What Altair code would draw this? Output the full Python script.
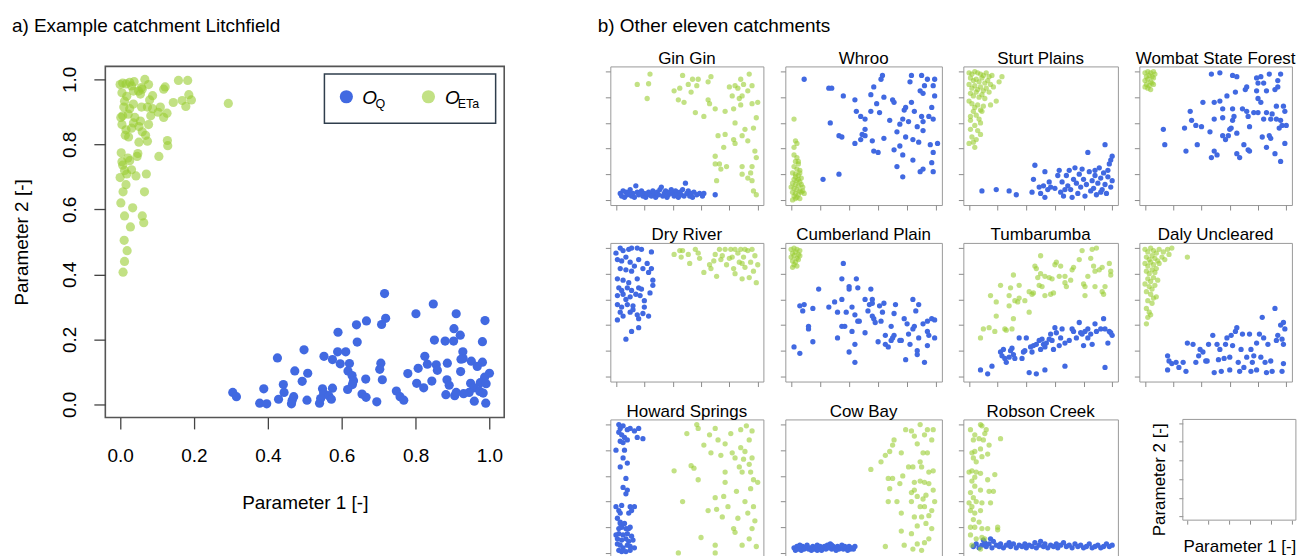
import altair as alt
import pandas as pd

FONT = "Liberation Sans"
BLUE = "#4169E1"
GREEN = "#9ACD32"

# ---------------- data ----------------
LITCH_Q = [(0.716,0.341),(0.848,0.309),(0.801,0.279),(0.910,0.279),(0.988,0.258),(0.667,0.257),(0.719,0.265),
           (0.708,0.246),(0.640,0.245),(0.590,0.222),(0.904,0.233),(0.921,0.213),(0.642,0.192),(0.851,0.198),
           (0.880,0.195),(0.903,0.195),(0.981,0.193),(0.498,0.168),(0.589,0.162),(0.611,0.162),(0.928,0.162),
           (0.426,0.143),(0.552,0.148),(0.575,0.138),(0.825,0.148),(0.929,0.141),(0.951,0.133),(0.981,0.130),
           (0.596,0.125),(0.621,0.126),(0.706,0.127),(0.832,0.124),(0.856,0.122),(0.886,0.127),(0.967,0.117),
           (0.923,0.139),(0.473,0.103),(0.508,0.096),(0.617,0.103),(0.628,0.089),(0.703,0.108),(0.779,0.095),
           (0.807,0.111),(0.859,0.105),(0.922,0.101),(1.000,0.096),(0.987,0.084),(0.493,0.071),(0.632,0.073),
           (0.665,0.078),(0.710,0.076),(0.844,0.072),(0.885,0.076),(0.975,0.067),(0.803,0.065),(0.991,0.064),
           (0.442,0.061),(0.629,0.061),(0.949,0.065),(0.891,0.059),(0.389,0.048),(0.548,0.048),(0.575,0.050),
           (0.616,0.046),(0.822,0.051),(0.958,0.051),(0.748,0.041),(0.974,0.040),(0.305,0.037),(0.444,0.037),
           (0.551,0.035),(0.945,0.037),(0.315,0.024),(0.470,0.024),(0.565,0.027),(0.655,0.032),(0.758,0.024),
           (0.882,0.030),(0.906,0.027),(0.930,0.033),(0.983,0.035),(0.429,0.016),(0.466,0.013),(0.506,0.013),
           (0.572,0.016),(0.666,0.022),(0.768,0.013),(0.695,0.008),(0.378,0.004),(0.397,0.002),(0.464,0.002),
           (0.540,0.004),(0.959,0.010),(0.990,0.004),(0.543,0.018),(0.910,0.037)]
LITCH_ETA = [(0.007,0.989),(0.016,0.986),(0.031,0.980),(0.038,0.993),(0.058,0.975),(0.067,1.000),(0.077,0.984),
             (0.158,0.997),(0.183,0.997),(0.122,0.977),(0.118,0.970),(0.005,0.959),(0.018,0.948),(0.036,0.964),
             (0.055,0.955),(0.080,0.937),(0.186,0.953),(0.193,0.937),(0.168,0.935),(0.144,0.929),(0.178,0.917),
             (0.293,0.926),(0.010,0.915),(0.026,0.910),(0.007,0.888),(0.022,0.893),(0.040,0.883),(0.058,0.915),
             (0.074,0.915),(0.088,0.910),(0.103,0.899),(0.118,0.883),(0.127,0.896),(0.109,0.915),(0.005,0.861),
             (0.016,0.845),(0.036,0.866),(0.051,0.855),(0.060,0.839),(0.077,0.861),(0.069,0.828),(0.051,0.807),
             (0.023,0.823),(0.074,0.810),(0.105,0.763),(0.128,0.812),(0.129,0.796),(0.048,0.772),(0.046,0.763),
             (0.003,0.774),(0.007,0.736),(0.021,0.758),(0.012,0.720),(0.031,0.722),(0.018,0.709),(0.043,0.703),
             (0.071,0.709),(0.000,0.698),(0.016,0.676),(0.008,0.654),(0.066,0.654),(0.002,0.620),(0.012,0.580),
             (0.034,0.605),(0.060,0.580),(0.064,0.559),(0.028,0.546),(0.011,0.505),(0.019,0.473),(0.012,0.440),
             (0.008,0.407),(0.000,0.984),(0.026,0.991),(0.050,0.964),(0.060,0.970),(0.088,0.950),(0.012,0.933),
             (0.036,0.924),(0.002,0.883),(0.031,0.850),(0.014,0.828),(0.055,0.872),(0.083,0.888),(0.026,0.750),
             (0.005,0.747)]

GINGIN_Q = [(0.03,0.05),(0.04,0.03),(0.05,0.07),(0.06,0.02),(0.07,0.06),(0.08,0.04),(0.10,0.08),(0.11,0.03),
            (0.12,0.05),(0.13,0.02),(0.14,0.11),(0.15,0.06),(0.16,0.04),(0.18,0.07),(0.19,0.03),(0.20,0.05),
            (0.21,0.02),(0.23,0.06),(0.24,0.04),(0.25,0.03),(0.26,0.07),(0.27,0.05),(0.28,0.02),(0.29,0.06),
            (0.30,0.04),(0.31,0.08),(0.32,0.10),(0.33,0.03),(0.34,0.05),(0.35,0.07),(0.36,0.02),(0.37,0.04),
            (0.38,0.06),(0.40,0.05),(0.41,0.03),(0.42,0.07),(0.43,0.04),(0.44,0.02),(0.45,0.06),(0.46,0.04),
            (0.47,0.08),(0.48,0.03),(0.49,0.13),(0.50,0.05),(0.51,0.07),(0.52,0.03),(0.53,0.05),(0.54,0.02),
            (0.55,0.06),(0.57,0.04),(0.59,0.05),(0.61,0.03),(0.62,0.05),(0.70,0.04),(0.09,0.06),(0.17,0.05),
            (0.22,0.04),(0.39,0.08)]
GINGIN_ETA = [(0.24,0.98),(0.15,0.90),(0.23,0.905),(0.22,0.79),(0.47,0.97),(0.54,0.94),(0.51,0.90),(0.58,0.94),
              (0.67,0.96),(0.65,0.92),(0.41,0.85),(0.45,0.87),(0.53,0.84),(0.57,0.89),(0.44,0.78),(0.48,0.76),
              (0.65,0.78),(0.66,0.75),(0.56,0.68),(0.62,0.65),(0.70,0.71),(0.77,0.69),(0.83,0.71),(0.80,0.88),
              (0.84,0.89),(0.88,0.94),(0.94,0.98),(0.96,0.89),(0.89,0.81),(0.82,0.81),(0.93,0.85),(0.88,0.74),
              (0.96,0.75),(1.00,0.76),(0.84,0.60),(0.91,0.55),(0.97,0.56),(0.72,0.50),(0.77,0.51),(0.83,0.47),
              (0.89,0.50),(0.93,0.46),(0.84,0.44),(0.76,0.41),(0.70,0.34),(0.70,0.28),(0.73,0.28),(0.78,0.26),
              (0.74,0.24),(0.89,0.26),(0.96,0.26),(0.99,0.33),(0.98,0.38),(0.95,0.21),(0.89,0.20),(0.93,0.17),
              (0.96,0.15),(0.97,0.07),(0.99,0.04),(0.71,0.15),(0.99,0.64),(0.90,0.90),(0.86,0.87),(0.87,0.79)]

WHROO_Q = [(0.09,0.94),(0.26,0.87),(0.28,0.87),(0.36,0.81),(0.27,0.60),(0.33,0.50),(0.35,0.49),(0.44,0.78),
           (0.45,0.69),(0.48,0.65),(0.51,0.63),(0.55,0.69),(0.57,0.88),(0.55,0.82),(0.63,0.97),(0.62,0.94),
           (0.64,0.80),(0.59,0.75),(0.61,0.68),(0.51,0.55),(0.49,0.51),(0.51,0.50),(0.44,0.44),(0.48,0.47),
           (0.56,0.46),(0.57,0.38),(0.60,0.37),(0.64,0.48),(0.68,0.62),(0.70,0.78),(0.71,0.76),(0.78,0.70),
           (0.79,0.72),(0.75,0.59),(0.81,0.61),(0.85,0.69),(0.83,0.76),(0.82,0.92),(0.83,0.97),(0.90,0.97),
           (0.94,0.94),(0.99,0.94),(0.89,0.85),(0.91,0.83),(0.98,0.89),(0.99,0.81),(0.90,0.65),(0.91,0.61),
           (0.97,0.72),(0.98,0.63),(1.01,0.44),(0.96,0.43),(0.87,0.57),(0.91,0.54),(0.84,0.47),(0.88,0.45),
           (0.79,0.49),(0.75,0.42),(0.71,0.39),(0.73,0.26),(0.77,0.35),(0.84,0.31),(0.77,0.18),(0.89,0.22),
           (0.91,0.24),(0.97,0.29),(0.98,0.22),(0.22,0.16),(0.33,0.20),(0.98,0.37),(0.92,0.89),(0.95,0.65),
           (0.77,0.63),(0.73,0.53)]
WHROO_ETA = [(0.02,0.63),(0.03,0.46),(0.04,0.44),(0.02,0.41),(0.03,0.30),(0.05,0.28),(0.02,0.26),(0.04,0.24),
             (0.06,0.23),(0.01,0.21),(0.03,0.20),(0.05,0.19),(0.07,0.17),(0.02,0.16),(0.04,0.15),(0.06,0.14),
             (0.01,0.13),(0.03,0.12),(0.05,0.11),(0.08,0.10),(0.02,0.09),(0.04,0.08),(0.06,0.07),(0.01,0.06),
             (0.03,0.05),(0.05,0.04),(0.07,0.06),(0.02,0.03),(0.04,0.02),(0.06,0.01),(0.01,0.00),(0.03,0.01),
             (0.08,0.07),(0.09,0.05),(0.05,0.30),(0.02,0.35),(0.04,0.33),(0.06,0.21),(0.03,0.18),(0.07,0.12),
             (0.00,0.10),(0.05,0.16)]

STURT_Q = [(0.09,0.07),(0.19,0.08),(0.28,0.07),(0.33,0.04),(0.44,0.06),(0.46,0.27),(0.53,0.22),(0.45,0.16),
           (0.49,0.10),(0.52,0.11),(0.55,0.08),(0.50,0.05),(0.53,0.02),(0.56,0.14),(0.57,0.10),(0.63,0.23),
           (0.65,0.14),(0.64,0.06),(0.66,0.03),(0.68,0.19),(0.69,0.11),(0.70,0.23),(0.71,0.08),(0.72,0.02),
           (0.73,0.16),(0.74,0.25),(0.75,0.13),(0.76,0.05),(0.77,0.20),(0.78,0.10),(0.79,0.24),(0.80,0.16),
           (0.81,0.03),(0.82,0.12),(0.83,0.37),(0.84,0.22),(0.85,0.07),(0.86,0.15),(0.87,0.09),(0.88,0.19),
           (0.89,0.04),(0.90,0.13),(0.91,0.25),(0.92,0.17),(0.93,0.08),(0.94,0.21),(0.95,0.43),(0.95,0.12),
           (0.96,0.05),(0.97,0.18),(0.98,0.28),(0.99,0.10),(1.00,0.34),(1.00,0.15),(0.99,0.31),(0.92,0.06),
           (0.88,0.23),(0.62,0.19),(0.60,0.09),(0.97,0.23),(0.67,0.08)]
STURT_ETA = [(0.00,0.99),(0.02,0.98),(0.04,1.00),(0.06,0.99),(0.08,0.98),(0.10,0.97),(0.12,0.99),(0.14,0.96),
             (0.16,0.97),(0.23,0.96),(0.21,0.92),(0.01,0.95),(0.03,0.93),(0.05,0.94),(0.07,0.92),(0.09,0.95),
             (0.11,0.91),(0.13,0.93),(0.15,0.90),(0.17,0.88),(0.00,0.90),(0.02,0.87),(0.04,0.89),(0.06,0.86),
             (0.08,0.88),(0.10,0.85),(0.12,0.87),(0.14,0.84),(0.01,0.83),(0.03,0.81),(0.05,0.84),(0.07,0.80),
             (0.09,0.82),(0.11,0.79),(0.19,0.77),(0.15,0.74),(0.00,0.77),(0.02,0.75),(0.04,0.72),(0.06,0.74),
             (0.08,0.70),(0.10,0.73),(0.03,0.69),(0.09,0.69),(0.01,0.65),(0.05,0.66),(0.07,0.63),(0.01,0.62),
             (0.08,0.60),(0.04,0.58),(0.01,0.55),(0.06,0.54),(0.08,0.51),(0.02,0.49),(0.05,0.47),(0.00,0.44),
             (0.04,0.41),(0.03,0.45)]

WOMBAT_Q = [(0.13,0.55),(0.14,0.43),(0.28,0.56),(0.29,0.38),(0.32,0.69),(0.33,0.62),(0.36,0.58),(0.37,0.43),
            (0.40,0.57),(0.41,0.76),(0.46,0.53),(0.47,0.98),(0.53,0.99),(0.49,0.76),(0.53,0.77),(0.49,0.63),
            (0.55,0.71),(0.55,0.64),(0.55,0.50),(0.59,0.50),(0.57,0.47),(0.49,0.38),(0.51,0.35),(0.47,0.33),
            (0.58,0.81),(0.64,0.84),(0.62,0.97),(0.65,0.96),(0.62,0.71),(0.62,0.62),(0.61,0.56),(0.65,0.52),
            (0.63,0.65),(0.65,0.36),(0.67,0.33),(0.70,0.43),(0.69,0.71),(0.72,0.69),(0.71,0.86),(0.72,0.88),
            (0.74,0.57),(0.73,0.65),(0.73,0.39),(0.79,0.95),(0.82,0.96),(0.80,0.91),(0.79,0.85),(0.80,0.79),
            (0.84,0.91),(0.86,0.85),(0.88,0.98),(0.96,0.98),(0.94,0.93),(0.94,0.88),(0.92,0.86),(0.80,0.68),
            (0.82,0.76),(0.84,0.63),(0.86,0.68),(0.90,0.67),(0.93,0.73),(0.98,0.73),(0.99,0.69),(0.96,0.62),
            (0.97,0.58),(1.00,0.58),(0.95,0.56),(0.93,0.63),(0.89,0.63),(0.83,0.49),(0.86,0.41),(0.88,0.50),
            (0.89,0.48),(0.99,0.44),(0.92,0.36),(0.96,0.30),(0.77,0.68),(0.60,0.55),(0.74,0.38)]
WOMBAT_ETA = [(0.00,0.99),(0.02,1.00),(0.04,0.99),(0.06,1.00),(0.01,0.96),(0.03,0.97),(0.05,0.96),(0.07,0.98),
              (0.00,0.93),(0.02,0.94),(0.04,0.92),(0.06,0.95),(0.01,0.90),(0.03,0.89),(0.05,0.91),(0.02,0.87),
              (0.04,0.86),(0.00,0.88),(0.06,0.90)]

DRY_Q = [(0.00,0.96),(0.03,1.00),(0.05,0.98),(0.09,0.99),(0.11,1.00),(0.15,1.00),(0.18,0.99),(0.25,0.97),
         (0.01,0.91),(0.04,0.90),(0.07,0.93),(0.10,0.89),(0.16,0.91),(0.22,0.88),(0.25,0.84),(0.03,0.84),
         (0.07,0.83),(0.11,0.82),(0.13,0.86),(0.19,0.84),(0.23,0.81),(0.01,0.76),(0.05,0.75),(0.09,0.73),
         (0.15,0.76),(0.26,0.75),(0.26,0.71),(0.02,0.69),(0.04,0.67),(0.08,0.69),(0.11,0.67),(0.16,0.69),
         (0.18,0.68),(0.01,0.63),(0.05,0.64),(0.10,0.62),(0.17,0.63),(0.24,0.65),(0.01,0.56),(0.04,0.54),
         (0.08,0.56),(0.12,0.55),(0.20,0.59),(0.20,0.54),(0.03,0.50),(0.05,0.47),(0.10,0.50),(0.15,0.48),
         (0.19,0.49),(0.23,0.47),(0.01,0.44),(0.16,0.45),(0.16,0.38),(0.11,0.35),(0.07,0.29),(0.12,0.52),
         (0.07,0.60),(0.14,0.64)]
DRY_ETA = [(0.41,0.95),(0.45,0.98),(0.47,0.98),(0.46,0.93),(0.51,0.95),(0.52,0.88),(0.56,0.99),(0.58,0.96),
           (0.59,0.92),(0.62,0.81),(0.66,0.87),(0.67,0.84),(0.69,0.90),(0.71,0.78),(0.70,0.95),(0.73,0.99),
           (0.75,0.94),(0.77,0.99),(0.78,0.87),(0.81,0.99),(0.82,0.93),(0.83,0.84),(0.84,0.80),(0.86,0.96),
           (0.87,0.89),(0.88,0.99),(0.89,0.76),(0.90,0.93),(0.91,0.85),(0.93,0.98),(0.94,0.77),(0.95,0.89),
           (0.96,0.99),(0.97,0.82),(0.98,0.94),(0.99,0.73),(1.00,0.87),(0.84,0.99),(0.91,0.99),(0.80,0.92),
           (0.89,0.88),(0.74,0.91)]

CUMB_Q = [(0.02,0.23),(0.06,0.18),(0.06,0.55),(0.09,0.56),(0.08,0.51),(0.12,0.39),(0.12,0.37),(0.15,0.27),
          (0.15,0.53),(0.19,0.68),(0.26,0.54),(0.30,0.58),(0.32,0.50),(0.32,0.30),(0.35,0.76),(0.36,0.88),
          (0.35,0.60),(0.35,0.39),(0.37,0.39),(0.38,0.50),(0.40,0.70),(0.40,0.68),(0.40,0.19),(0.42,0.54),
          (0.42,0.35),(0.44,0.48),(0.44,0.25),(0.44,0.11),(0.45,0.76),(0.46,0.69),(0.46,0.43),(0.47,0.43),
          (0.51,0.34),(0.51,0.60),(0.53,0.51),(0.54,0.56),(0.55,0.68),(0.56,0.60),(0.56,0.47),(0.57,0.45),
          (0.58,0.42),(0.60,0.27),(0.61,0.55),(0.62,0.43),(0.63,0.50),(0.64,0.57),(0.65,0.32),(0.65,0.25),
          (0.67,0.23),(0.69,0.28),(0.69,0.39),(0.70,0.30),(0.71,0.49),(0.72,0.56),(0.71,0.32),(0.75,0.28),
          (0.76,0.28),(0.78,0.45),(0.79,0.13),(0.80,0.41),(0.81,0.33),(0.82,0.25),(0.84,0.60),(0.84,0.37),
          (0.85,0.39),(0.86,0.51),(0.87,0.20),(0.87,0.17),(0.88,0.56),(0.88,0.30),(0.91,0.41),(0.92,0.11),
          (0.94,0.35),(0.94,0.24),(0.94,0.43),(0.95,0.32),(0.97,0.45),(0.99,0.44),(0.99,0.30),(0.56,0.57)]
CUMB_ETA = [(0.00,0.99),(0.02,1.00),(0.04,0.99),(0.06,0.98),(0.01,0.96),(0.03,0.97),(0.05,0.95),(0.00,0.93),
            (0.02,0.94),(0.04,0.92),(0.06,0.94),(0.01,0.90),(0.03,0.89),(0.05,0.91),(0.02,0.87),(0.04,0.86),
            (0.01,0.85)]

TUMBA_Q = [(0.08,0.05),(0.13,0.02),(0.16,0.08),(0.22,0.19),(0.23,0.16),(0.24,0.21),(0.25,0.14),(0.26,0.11),
           (0.28,0.15),(0.29,0.20),(0.30,0.22),(0.31,0.17),(0.32,0.14),(0.35,0.30),(0.37,0.14),(0.38,0.19),
           (0.39,0.20),(0.40,0.30),(0.42,0.03),(0.43,0.23),(0.44,0.19),(0.45,0.24),(0.47,0.02),(0.47,0.25),
           (0.49,0.28),(0.50,0.21),(0.51,0.29),(0.53,0.05),(0.52,0.25),(0.53,0.23),(0.54,0.26),(0.56,0.29),
           (0.57,0.33),(0.58,0.28),(0.59,0.21),(0.60,0.38),(0.61,0.34),(0.63,0.24),(0.64,0.30),(0.65,0.37),
           (0.67,0.08),(0.67,0.26),(0.70,0.28),(0.72,0.37),(0.73,0.35),(0.75,0.30),(0.77,0.42),(0.78,0.34),
           (0.80,0.24),(0.81,0.35),(0.83,0.30),(0.85,0.33),(0.86,0.25),(0.88,0.41),(0.89,0.35),(0.92,0.37),
           (0.94,0.45),(0.95,0.07),(0.97,0.26),(0.98,0.35),(0.99,0.34),(1.00,0.32),(0.95,0.37),(0.79,0.33),
           (0.83,0.37)]
TUMBA_ETA = [(0.08,0.30),(0.10,0.37),(0.14,0.38),(0.18,0.35),(0.15,0.63),(0.19,0.58),(0.19,0.47),(0.22,0.71),
             (0.25,0.37),(0.26,0.36),(0.28,0.63),(0.28,0.55),(0.29,0.69),(0.30,0.37),(0.31,0.45),(0.31,0.79),
             (0.32,0.59),(0.34,0.58),(0.35,0.71),(0.35,0.61),(0.39,0.59),(0.42,0.66),(0.42,0.50),(0.44,0.64),
             (0.45,0.65),(0.46,0.86),(0.47,0.84),(0.48,0.77),(0.49,0.71),(0.50,0.80),(0.50,0.94),(0.51,0.70),
             (0.53,0.78),(0.53,0.63),(0.56,0.77),(0.57,0.64),(0.58,0.76),(0.59,0.65),(0.60,0.87),(0.61,0.89),
             (0.63,0.78),(0.64,0.86),(0.67,0.78),(0.68,0.70),(0.71,0.75),(0.72,0.83),(0.73,0.85),(0.77,0.91),
             (0.79,0.98),(0.80,0.72),(0.81,0.63),(0.83,0.78),(0.85,0.92),(0.86,0.99),(0.87,0.86),(0.88,0.70),
             (0.89,1.00),(0.91,0.83),(0.93,0.66),(0.94,0.64),(0.95,0.70),(0.98,0.88),(0.99,0.79),(0.99,0.82),
             (0.88,0.82),(0.93,0.85),(0.81,0.70),(0.67,0.73)]

DALY_Q = [(0.16,0.16),(0.17,0.12),(0.19,0.10),(0.16,0.05),(0.22,0.11),(0.24,0.07),(0.27,0.11),(0.29,0.04),
          (0.30,0.26),(0.34,0.25),(0.36,0.11),(0.38,0.16),(0.39,0.21),(0.41,0.19),(0.43,0.12),(0.44,0.12),
          (0.45,0.25),(0.48,0.32),(0.49,0.03),(0.51,0.25),(0.52,0.13),(0.53,0.21),(0.54,0.04),(0.56,0.14),
          (0.57,0.25),(0.58,0.30),(0.60,0.15),(0.60,0.05),(0.61,0.32),(0.62,0.24),(0.64,0.35),(0.65,0.38),
          (0.66,0.11),(0.67,0.04),(0.68,0.21),(0.69,0.33),(0.70,0.07),(0.72,0.15),(0.74,0.33),(0.75,0.21),
          (0.75,0.04),(0.76,0.11),(0.77,0.16),(0.79,0.26),(0.79,0.05),(0.81,0.33),(0.82,0.15),(0.83,0.46),
          (0.84,0.30),(0.85,0.11),(0.86,0.03),(0.87,0.25),(0.89,0.12),(0.90,0.04),(0.92,0.53),(0.93,0.28),
          (0.94,0.32),(0.96,0.40),(0.97,0.04),(0.98,0.42),(0.98,0.10),(0.99,0.37),(0.97,0.29),(0.98,0.25)]
DALY_ETA = [(0.00,0.99),(0.02,0.97),(0.04,1.00),(0.06,0.98),(0.08,0.96),(0.10,0.99),(0.13,0.97),(0.16,0.99),
            (0.19,1.00),(0.17,0.95),(0.30,0.93),(0.01,0.93),(0.03,0.91),(0.05,0.94),(0.07,0.92),(0.09,0.90),
            (0.12,0.93),(0.14,0.91),(0.00,0.88),(0.02,0.86),(0.04,0.89),(0.06,0.87),(0.08,0.84),(0.10,0.88),
            (0.01,0.82),(0.03,0.80),(0.05,0.83),(0.07,0.81),(0.02,0.76),(0.04,0.74),(0.06,0.77),(0.00,0.72),
            (0.03,0.70),(0.05,0.68),(0.07,0.71),(0.01,0.66),(0.04,0.64),(0.06,0.61),(0.02,0.59),(0.05,0.57),
            (0.01,0.53),(0.03,0.50),(0.02,0.46),(0.01,0.41),(0.04,0.48),(0.08,0.62),(0.09,0.75)]

HOWARD_Q = [(0.02,1.00),(0.03,0.97),(0.05,0.99),(0.08,0.96),(0.10,0.97),(0.13,0.95),(0.16,0.97),(0.19,0.89),
            (0.15,0.90),(0.02,0.94),(0.04,0.92),(0.06,0.90),(0.03,0.87),(0.05,0.86),(0.08,0.88),(0.00,0.80),
            (0.06,0.80),(0.05,0.74),(0.08,0.70),(0.03,0.67),(0.07,0.58),(0.05,0.51),(0.08,0.49),(0.07,0.46),
            (0.00,0.36),(0.02,0.33),(0.04,0.37),(0.03,0.31),(0.10,0.36),(0.11,0.33),(0.13,0.36),(0.09,0.31),
            (0.01,0.27),(0.03,0.24),(0.02,0.19),(0.04,0.20),(0.07,0.19),(0.09,0.19),(0.10,0.20),(0.02,0.15),
            (0.05,0.14),(0.08,0.15),(0.11,0.13),(0.01,0.11),(0.04,0.10),(0.07,0.11),(0.09,0.09),(0.12,0.10),
            (0.01,0.07),(0.03,0.06),(0.05,0.04),(0.08,0.06),(0.10,0.05),(0.13,0.04),(0.02,0.02),(0.04,0.01),
            (0.07,0.01),(0.10,0.02),(0.00,0.14),(0.03,0.23),(0.06,0.23)]
HOWARD_ETA = [(0.41,0.64),(0.44,0.00),(0.47,0.40),(0.50,0.93),(0.53,0.68),(0.55,0.66),(0.57,1.00),(0.58,0.97),
              (0.58,0.57),(0.60,0.12),(0.62,0.84),(0.65,0.33),(0.66,0.92),(0.67,0.78),(0.70,0.97),(0.70,0.43),
              (0.71,0.34),(0.70,0.06),(0.70,0.00),(0.72,0.88),(0.74,0.76),(0.75,0.28),(0.76,0.44),(0.77,0.63),
              (0.77,0.85),(0.77,0.55),(0.79,0.36),(0.81,0.93),(0.82,0.78),(0.83,0.19),(0.84,0.74),(0.85,0.48),
              (0.86,0.27),(0.87,0.67),(0.88,0.96),(0.89,0.06),(0.89,0.63),(0.90,0.73),(0.91,0.79),(0.91,0.40),
              (0.92,0.99),(0.93,0.31),(0.94,0.69),(0.94,0.88),(0.95,0.50),(0.95,0.63),(0.96,0.95),(0.96,0.19),
              (0.97,0.36),(0.97,0.57),(0.98,0.25),(0.99,0.05),(1.00,0.55),(0.94,0.11),(0.88,0.82),(0.84,0.16),
              (0.96,0.74)]

COWBAY_Q = [(0.02,0.04),(0.03,0.02),(0.04,0.05),(0.05,0.03),(0.06,0.04),(0.07,0.02),(0.08,0.05),(0.09,0.03),
            (0.10,0.04),(0.11,0.06),(0.12,0.03),(0.13,0.04),(0.14,0.02),(0.15,0.05),(0.16,0.03),(0.17,0.04),
            (0.18,0.06),(0.19,0.03),(0.20,0.05),(0.21,0.02),(0.22,0.04),(0.23,0.05),(0.24,0.03),(0.25,0.06),
            (0.26,0.04),(0.27,0.07),(0.28,0.03),(0.29,0.05),(0.30,0.04),(0.31,0.02),(0.32,0.05),(0.33,0.03),
            (0.34,0.04),(0.35,0.06),(0.36,0.03),(0.37,0.05),(0.38,0.04),(0.39,0.02),(0.40,0.05),(0.41,0.03),
            (0.42,0.04),(0.44,0.05),(0.43,0.03),(0.06,0.06),(0.18,0.02),(0.28,0.06)]
COWBAY_ETA = [(0.55,0.65),(0.62,0.71),(0.65,0.76),(0.68,0.79),(0.70,0.84),(0.71,0.88),(0.76,0.78),(0.79,0.96),
              (0.83,0.95),(0.85,0.91),(0.87,0.85),(0.89,1.00),(0.92,0.92),(0.94,0.96),(0.98,0.96),(0.97,0.88),
              (0.91,0.78),(0.94,0.78),(0.89,0.71),(0.90,0.67),(0.95,0.63),(0.98,0.64),(0.81,0.67),(0.84,0.67),
              (0.77,0.60),(0.67,0.58),(0.70,0.58),(0.68,0.50),(0.75,0.54),(0.85,0.55),(0.89,0.56),(0.92,0.55),
              (0.95,0.54),(0.98,0.49),(0.85,0.49),(0.83,0.47),(0.87,0.44),(0.91,0.42),(0.93,0.45),(0.67,0.40),
              (0.73,0.40),(0.83,0.40),(0.89,0.36),(0.92,0.36),(0.97,0.33),(0.99,0.40),(0.76,0.31),(0.85,0.28),
              (0.90,0.28),(0.95,0.29),(0.87,0.21),(0.93,0.23),(0.97,0.19),(0.76,0.17),(0.83,0.15),(0.95,0.11),
              (0.92,0.08),(0.65,0.05),(0.78,0.06),(0.84,0.03),(0.87,0.07),(0.90,0.02)]

ROBSON_Q = [(0.03,0.05),(0.05,0.07),(0.07,0.04),(0.09,0.06),(0.11,0.08),(0.12,0.05),(0.14,0.07),(0.16,0.04),
            (0.17,0.09),(0.19,0.06),(0.21,0.05),(0.22,0.07),(0.24,0.04),(0.26,0.06),(0.28,0.08),(0.29,0.05),
            (0.31,0.07),(0.33,0.04),(0.35,0.06),(0.37,0.05),(0.39,0.07),(0.40,0.04),(0.42,0.06),(0.44,0.05),
            (0.46,0.08),(0.47,0.04),(0.49,0.06),(0.50,0.09),(0.52,0.05),(0.53,0.07),(0.55,0.04),(0.57,0.06),
            (0.59,0.05),(0.61,0.07),(0.62,0.04),(0.64,0.06),(0.66,0.08),(0.68,0.05),(0.70,0.06),(0.72,0.04),
            (0.74,0.07),(0.76,0.05),(0.78,0.06),(0.80,0.04),(0.82,0.05),(0.84,0.07),(0.86,0.04),(0.88,0.05),
            (0.90,0.06),(0.92,0.04),(0.94,0.05),(0.96,0.07),(0.98,0.05),(1.00,0.06),(0.10,0.10),(0.15,0.11)]
ROBSON_ETA = [(0.01,0.96),(0.08,1.00),(0.09,0.99),(0.12,0.96),(0.11,0.93),(0.04,0.92),(0.07,0.89),(0.03,0.88),
              (0.10,0.88),(0.22,0.89),(0.14,0.84),(0.02,0.78),(0.04,0.79),(0.08,0.81),(0.13,0.77),(0.03,0.74),
              (0.05,0.71),(0.00,0.63),(0.02,0.64),(0.05,0.63),(0.08,0.62),(0.18,0.61),(0.13,0.57),(0.02,0.56),
              (0.04,0.52),(0.08,0.49),(0.14,0.48),(0.17,0.48),(0.01,0.47),(0.03,0.43),(0.00,0.39),(0.02,0.36),
              (0.05,0.40),(0.09,0.39),(0.15,0.39),(0.01,0.33),(0.04,0.31),(0.08,0.33),(0.03,0.26),(0.07,0.24),
              (0.01,0.20),(0.04,0.20),(0.09,0.19),(0.13,0.19),(0.20,0.20),(0.20,0.18),(0.01,0.14),(0.05,0.11),
              (0.09,0.12),(0.02,0.06),(0.08,0.03),(0.11,0.11),(0.04,0.59),(0.09,0.75)]

PANEL_TITLES = ["Gin Gin", "Whroo", "Sturt Plains", "Wombat State Forest",
                "Dry River", "Cumberland Plain", "Tumbarumba", "Daly Uncleared",
                "Howard Springs", "Cow Bay", "Robson Creek"]
PANEL_DATA = [(GINGIN_Q, GINGIN_ETA), (WHROO_Q, WHROO_ETA), (STURT_Q, STURT_ETA), (WOMBAT_Q, WOMBAT_ETA),
              (DRY_Q, DRY_ETA), (CUMB_Q, CUMB_ETA), (TUMBA_Q, TUMBA_ETA), (DALY_Q, DALY_ETA),
              (HOWARD_Q, HOWARD_ETA), (COWBAY_Q, COWBAY_ETA), (ROBSON_Q, ROBSON_ETA)]
TICKS = [0.0, 0.2, 0.4, 0.6, 0.8, 1.0]
SERIES = ["Q", "ETa"]

# ---------------- layout constants ----------------
DOM = [-0.04, 1.04]
MAIN_W, MAIN_H = 400, 352
COL_W = [153.5, 157, 155, 153]
PANEL_H = 139
ROW_GAP = 38
COL_GAP = 21.5


def make_df(q, eta):
    rows = [{"p1": x, "p2": y, "s": "Q"} for x, y in q]
    rows += [{"p1": x, "p2": y, "s": "ETa"} for x, y in eta]
    return pd.DataFrame(rows)


def enc_color():
    return alt.Color("s:N", scale=alt.Scale(domain=SERIES, range=[BLUE, GREEN]), legend=None)


def enc_opacity():
    return alt.Opacity("s:N", scale=alt.Scale(domain=SERIES, range=[1.0, 0.6]), legend=None)


one = pd.DataFrame({"k": [0]})


def label(text, x, y, size, align="left", style="normal"):
    return alt.Chart(one).mark_text(text=text, font=FONT, fontSize=size, fontStyle=style, align=align,
                                    baseline="alphabetic", color="black").encode(x=alt.value(x), y=alt.value(y))


# ---------------- main panel ----------------
main_x_axis = alt.Axis(values=TICKS, format=".1f", grid=False, domain=False, tickSize=11.5, tickColor="#444444",
                       tickWidth=1.3, labelFont=FONT, labelFontSize=19, labelColor="#000000", labelPadding=18,
                       labelFlush=False, labelOverlap=False, title="Parameter 1 [-]", titleFont=FONT,
                       titleFontSize=19, titleFontWeight="normal", titleColor="#000000", titleX=MAIN_W / 2,
                       titleY=91, titleBaseline="alphabetic", titleAlign="center")
main_y_axis = alt.Axis(values=TICKS, format=".1f", grid=False, domain=False, tickSize=11.5, tickColor="#444444",
                       tickWidth=1.3, labelFont=FONT, labelFontSize=19, labelColor="#000000", labelPadding=18,
                       labelAngle=270, labelAlign="center", labelBaseline="alphabetic", labelFlush=False,
                       labelOverlap=False, title="Parameter 2 [-]", titleFont=FONT, titleFontSize=19,
                       titleFontWeight="normal", titleColor="#000000", titleX=-78.3, titleY=MAIN_H / 2,
                       titleBaseline="alphabetic", titleAlign="center", titleAngle=270)

main_pts = alt.Chart(make_df(LITCH_Q, LITCH_ETA)).mark_circle(size=85).encode(
    x=alt.X("p1:Q", scale=alt.Scale(domain=DOM, nice=False, zero=False), axis=main_x_axis),
    y=alt.Y("p2:Q", scale=alt.Scale(domain=DOM, nice=False, zero=False), axis=main_y_axis),
    color=enc_color(), opacity=enc_opacity())

leg_box = alt.Chart(one).mark_rect(fill="white", stroke="#2F3E4C", strokeWidth=1.5).encode(
    x=alt.value(219.7), x2=alt.value(391.4), y=alt.value(7.7), y2=alt.value(57.1))
leg_q = alt.Chart(one).mark_circle(size=175, opacity=1, color=BLUE).encode(x=alt.value(241.7), y=alt.value(30.4))
leg_e = alt.Chart(one).mark_circle(size=175, opacity=0.6, color=GREEN).encode(x=alt.value(324.0), y=alt.value(30.4))

main = alt.layer(
    main_pts, leg_box, leg_q, leg_e,
    label("O", 257.7, 37.7, 19, style="italic"),
    label("Q", 271.0, 41.7, 12.5),
    label("O", 340.7, 37.7, 19, style="italic"),
    label("ETa", 353.4, 41.7, 12.5),
    label("a) Example catchment Litchfield", -93.7, -35, 19),
    label("b) Other eleven catchments", 493.7, -35, 19),
).properties(width=MAIN_W, height=MAIN_H, view=alt.ViewBackground(stroke="#555555", strokeWidth=1.6))

# ---------------- small panels ----------------
small_axis = dict(values=TICKS, labels=False, title=None, grid=False, domain=False, tickSize=5,
                  tickColor="#8c8c8c", tickWidth=1)


def small_panel(title, q, eta, w):
    pts = alt.Chart(make_df(q, eta)).mark_circle(size=28).encode(
        x=alt.X("p1:Q", scale=alt.Scale(domain=DOM, nice=False, zero=False), axis=alt.Axis(**small_axis)),
        y=alt.Y("p2:Q", scale=alt.Scale(domain=DOM, nice=False, zero=False), axis=alt.Axis(**small_axis)),
        color=enc_color(), opacity=enc_opacity())
    ttl = label(title, w / 2, -2.8, 17, align="center")
    return alt.layer(pts, ttl).properties(
        width=w, height=PANEL_H, view=alt.ViewBackground(stroke="#9a9a9a", strokeWidth=1))


panels = [small_panel(t, q, e, COL_W[i % 4]) for i, (t, (q, e)) in enumerate(zip(PANEL_TITLES, PANEL_DATA))]

# empty panel carrying the axis titles
E_LEFT = 43.6
E_W = 113.4
E_H = 101
empty = alt.Chart(one).mark_rect(filled=False, stroke="#9a9a9a", strokeWidth=1).encode(
    x=alt.X(datum=-0.04, type="quantitative",
            scale=alt.Scale(domain=DOM, nice=False, zero=False, range=[E_LEFT, E_LEFT + E_W]),
            axis=alt.Axis(values=TICKS, labels=False, grid=False, domain=False, tickSize=4, tickColor="#8c8c8c",
                          offset=-(PANEL_H - E_H), title="Parameter 1 [-]", titleFont=FONT, titleFontSize=17,
                          titleFontWeight="normal", titleColor="black", titleX=E_LEFT + E_W / 2, titleY=31,
                          titleBaseline="alphabetic", titleAlign="center")),
    x2=alt.datum(1.04),
    y=alt.Y(datum=-0.04, type="quantitative",
            scale=alt.Scale(domain=DOM, nice=False, zero=False, range=[E_H, 0]),
            axis=alt.Axis(values=TICKS, labels=False, grid=False, domain=False, tickSize=4, tickColor="#8c8c8c",
                          offset=-E_LEFT, title="Parameter 2 [-]", titleFont=FONT, titleFontSize=17,
                          titleFontWeight="normal", titleColor="black", titleX=-18.8, titleY=60,
                          titleBaseline="alphabetic", titleAlign="center", titleAngle=270)),
    y2=alt.datum(1.04),
).properties(width=COL_W[3], height=PANEL_H, view=alt.ViewBackground(stroke=None))
panels.append(empty)

rows = [alt.hconcat(*panels[r * 4:(r + 1) * 4], spacing=COL_GAP, bounds="flush") for r in range(3)]
right = alt.vconcat(*rows, spacing=PANEL_H + ROW_GAP, bounds="flush")

chart = alt.hconcat(main, right, spacing=106.4, bounds="flush").properties(
    padding={"left": 2.6, "top": 6.8, "right": 0, "bottom": 0}
).configure(font=FONT)

chart.save("out.html", embed_options={"renderer": "svg", "actions": False})
